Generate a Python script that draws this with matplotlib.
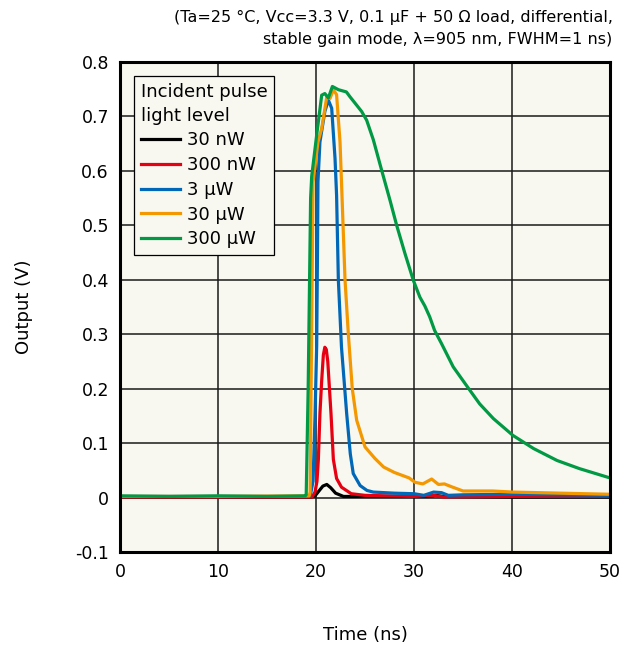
import matplotlib
matplotlib.use("Agg")
import matplotlib.pyplot as plt

# pulse response (time in ns, output in V)
t_30nW = [0, 10, 19.5, 19.9, 20.3, 20.7, 21.1, 21.5, 22.0, 22.8, 26, 31.5, 32.2, 33.0, 40, 50]
v_30nW = [0.001, 0.001, 0.001, 0.003, 0.012, 0.021, 0.024, 0.018, 0.008, 0.002, 0.002, 0.002, 0.004, 0.002, 0.001, 0.001]

t_300nW = [0, 10, 19.6, 19.9, 20.1, 20.24, 20.4, 20.58, 20.75, 20.9, 21.05, 21.2, 21.53, 21.77, 22.1, 22.6,
           23.6, 25, 30, 32, 33, 40, 50]
v_300nW = [0.001, 0.001, 0.001, 0.01, 0.03, 0.07, 0.154, 0.215, 0.262, 0.276, 0.272, 0.25, 0.154, 0.07, 0.035,
           0.019, 0.007, 0.004, 0.002, 0.004, 0.001, 0.002, 0.002]

t_3uW = [0, 10, 19.4, 19.7, 19.9, 20.07, 20.15, 20.2, 20.4, 20.9, 21.26, 21.6, 21.94, 22.1, 22.28,
         22.6, 23.13, 23.5, 23.8, 24.5, 25.2, 25.85, 28, 30, 31, 32, 32.8, 33.5, 35, 40, 45, 50]
v_3uW = [0.002, 0.002, 0.002, 0.03, 0.15, 0.28, 0.45, 0.58, 0.653, 0.709, 0.73, 0.715, 0.623, 0.555, 0.40,
         0.276, 0.154, 0.08, 0.044, 0.022, 0.013, 0.010, 0.008, 0.007, 0.004, 0.01, 0.009, 0.004, 0.005,
         0.006, 0.005, 0.004]

t_30uW = [0, 10, 19.3, 19.4, 19.55, 19.7, 20.2, 20.58, 21.1, 21.43, 21.77, 22.1, 22.45, 22.6,
          22.96, 23.3, 23.7, 24.15, 25.0, 26.0, 26.9, 28.0, 28.9, 29.5, 30.1, 30.9, 31.8, 32.5,
          33.1, 33.8, 35.0, 38, 40.1, 45, 50]
v_30uW = [0.002, 0.002, 0.003, 0.01, 0.3, 0.58, 0.653, 0.678, 0.736, 0.733, 0.749, 0.74, 0.653, 0.58,
          0.40, 0.30, 0.20, 0.142, 0.093, 0.072, 0.056, 0.046, 0.040, 0.036, 0.028, 0.025, 0.034,
          0.024, 0.025, 0.020, 0.012, 0.012, 0.010, 0.008, 0.006]

t_300uW = [0, 5, 10, 15, 18.9, 19.0, 19.2, 19.45, 19.56, 20.07, 20.58, 20.9, 21.26, 21.67, 22.3,
           23.1, 23.47, 24.0, 24.66, 25.17, 25.85, 26.7, 27.55, 28.23, 29.08, 29.93, 30.6, 31.1,
           31.6, 32.1, 32.8, 34.0, 35.7, 36.7, 38.1, 40.1, 42.2, 44.6, 46.9, 50]
v_300uW = [0.003, 0.002, 0.003, 0.002, 0.003, 0.005, 0.2, 0.55, 0.59, 0.666, 0.739, 0.742, 0.734, 0.755,
           0.749, 0.745, 0.736, 0.724, 0.709, 0.693, 0.657, 0.601, 0.546, 0.50, 0.448, 0.399, 0.368,
           0.352, 0.332, 0.307, 0.283, 0.240, 0.197, 0.172, 0.145, 0.114, 0.090, 0.068, 0.053, 0.036]

labels = ["30 nW", "300 nW", "3 μW", "30 μW", "300 μW"]
colors = ["#000000", "#e60012", "#0068b7", "#f39800", "#009944"]

x_ticks = [0, 10, 20, 30, 40, 50]
y_ticks = [-0.1, 0, 0.1, 0.2, 0.3, 0.4, 0.5, 0.6, 0.7, 0.8]
y_tick_labels = ["-0.1", "0", "0.1", "0.2", "0.3", "0.4", "0.5", "0.6", "0.7", "0.8"]

plt.rcParams["font.family"] = ["DejaVu Sans"]

fig = plt.figure(figsize=(6.27, 6.49), dpi=100)
ax = fig.add_axes([0.1914, 0.1495, 0.7815, 0.755])
ax.set_facecolor("#f8f7f0")

series = [(t_30nW, v_30nW), (t_300nW, v_300nW), (t_3uW, v_3uW), (t_30uW, v_30uW), (t_300uW, v_300uW)]
for (t, v), lab, c in zip(series, labels, colors):
    ax.plot(t, v, color=c, lw=2.3, label=lab, solid_joinstyle="round")

ax.set_xlim(0, 50)
ax.set_ylim(-0.1, 0.8)
ax.set_xticks(x_ticks)
ax.set_yticks(y_ticks)
ax.set_yticklabels(y_tick_labels)
ax.tick_params(length=0, labelsize=12.5, pad=8)
ax.grid(True, color="#1a1a1a", lw=1.1)
ax.set_axisbelow(True)
for s in ax.spines.values():
    s.set_linewidth(2.2)
    s.set_color("black")

ax.set_xlabel("Time (ns)", fontsize=13, labelpad=32)
ax.set_ylabel("Output (V)", fontsize=13, labelpad=30)

leg = ax.legend(title="Incident pulse\nlight level", loc="upper left", bbox_to_anchor=(0.029, 0.971),
                borderaxespad=0, fontsize=13, title_fontsize=13, frameon=True, fancybox=False,
                framealpha=1, edgecolor="black", facecolor="#f8f7f0", handlelength=2.2,
                handletextpad=0.35, labelspacing=0.37, borderpad=0.35, alignment="left")
leg.get_frame().set_linewidth(0.9)
leg.get_title().set_linespacing(1.45)
for h in leg.get_lines():
    h.set_linewidth(2.3)

fig.text(0.977, 0.928, "(Ta=25 °C, Vcc=3.3 V, 0.1 μF + 50 Ω load, differential,\n"
         "stable gain mode, λ=905 nm, FWHM=1 ns)", ha="right", va="bottom", fontsize=11.5,
         multialignment="right", linespacing=1.6)

fig.savefig("out.png", dpi=100)
